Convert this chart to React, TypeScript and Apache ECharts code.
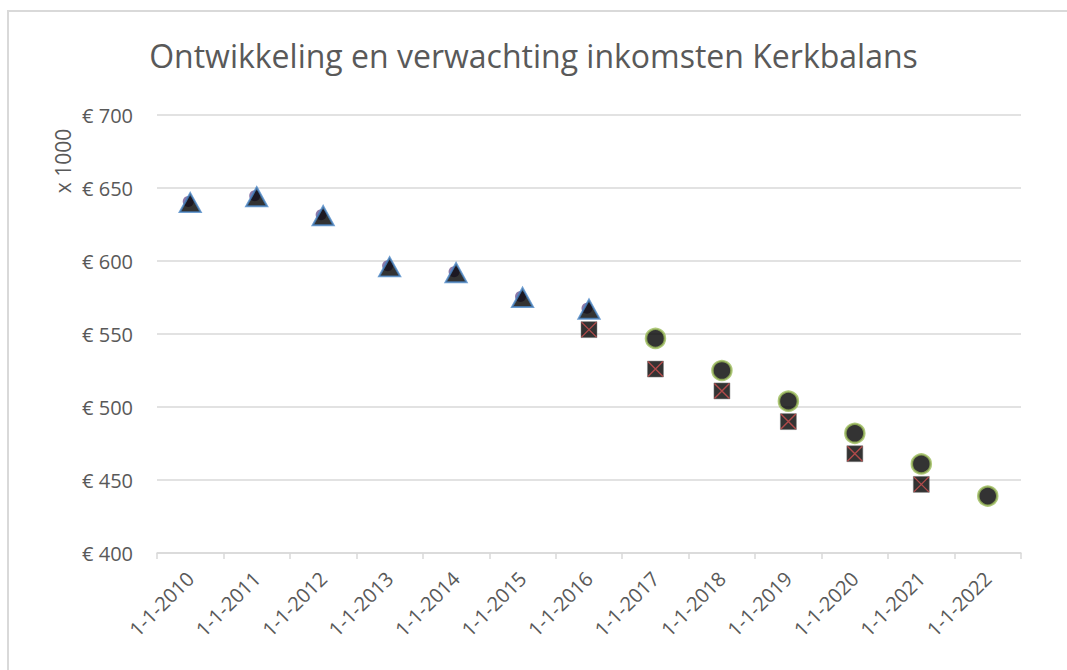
import React, { useEffect, useRef } from "react";
import * as echarts from "echarts";

const categories = [
  "1-1-2010", "1-1-2011", "1-1-2012", "1-1-2013", "1-1-2014", "1-1-2015", "1-1-2016",
  "1-1-2017", "1-1-2018", "1-1-2019", "1-1-2020", "1-1-2021", "1-1-2022",
];
const actual = [640, 644, 631, 596, 592, 575, 567, null, null, null, null, null, null];
const expected = [null, null, null, null, null, null, null, 547, 525, 504, 482, 461, 439];
const alternative = [null, null, null, null, null, null, 553, 526, 511, 490, 468, 447, null];
const yTicks = { min: 400, max: 700, interval: 50 };

const FONT = "'Open Sans', 'Noto Sans', sans-serif";
const GRAY = "#595959";

export default function App() {
  const ref = useRef<HTMLDivElement>(null);
  useEffect(() => {
    if (!ref.current) return;
    const chart = echarts.init(ref.current, null, { renderer: "svg" });
    chart.setOption({
      animation: false,
      backgroundColor: "#ffffff",
      title: {
        text: "Ontwikkeling en verwachting inkomsten Kerkbalans",
        left: "center",
        top: 34,
        textStyle: { fontFamily: FONT, fontSize: 32, fontWeight: "normal", color: GRAY },
      },
      graphic: [
        {
          type: "rect",
          shape: { x: 8, y: 11, width: 1200, height: 800 },
          style: { fill: "none", stroke: "#d9d9d9", lineWidth: 2 },
          silent: true,
        },
        {
          type: "text",
          x: 63,
          y: 161,
          rotation: Math.PI / 2,
          style: {
            text: "x 1000",
            fontFamily: FONT,
            fontSize: 21,
            fill: GRAY,
            align: "center",
            verticalAlign: "middle",
          },
        },
      ],
      grid: { left: 157, right: 46, top: 115, bottom: 117, containLabel: false },
      xAxis: {
        type: "category",
        data: categories,
        boundaryGap: true,
        axisLine: { lineStyle: { color: "#d9d9d9", width: 1.5 } },
        axisTick: { show: true, length: 6, lineStyle: { color: "#d9d9d9", width: 1.5 } },
        axisLabel: {
          rotate: 45,
          interval: 0,
          margin: 22,
          fontFamily: FONT,
          fontSize: 20,
          color: GRAY,
        },
        splitLine: { show: false },
      },
      yAxis: {
        type: "value",
        min: yTicks.min,
        max: yTicks.max,
        interval: yTicks.interval,
        axisLine: { show: false },
        axisTick: { show: false },
        axisLabel: {
          formatter: (v: number) => "€ " + v,
          fontFamily: FONT,
          fontSize: 20,
          color: GRAY,
          margin: 24,
        },
        splitLine: { lineStyle: { color: "#d9d9d9", width: 1.5 } },
      },
      series: [
        {
          type: "scatter",
          name: "actual",
          data: actual,
          symbol: "circle",
          symbolSize: 11,
          symbolOffset: [-2, -1],
          itemStyle: { color: "#7f6a9f", opacity: 0.9 },
          z: 1,
        },
        {
          type: "scatter",
          name: "actual",
          data: actual,
          symbol: "triangle",
          symbolSize: [21, 19],
          itemStyle: { color: "#000000", borderColor: "#4a86c6", borderWidth: 2 },
          z: 2,
        },
        {
          type: "scatter",
          name: "alternative",
          data: alternative,
          symbol: "rect",
          symbolSize: 16,
          itemStyle: { color: "#000000", borderColor: "#7f7f7f", borderWidth: 0.6 },
          z: 3,
        },
        {
          type: "scatter",
          name: "alternativeX",
          data: alternative,
          symbol: "path://M0,0L10,10M10,0L0,10",
          symbolSize: 15,
          itemStyle: { color: "none", borderColor: "#d05050", borderWidth: 1.4 },
          z: 4,
        },
        {
          type: "scatter",
          name: "expected",
          data: expected,
          symbol: "circle",
          symbolSize: 19,
          itemStyle: { color: "#000000", borderColor: "#9bbb59", borderWidth: 2.5 },
          z: 5,
        },
      ],
    });
    return () => chart.dispose();
  }, []);
  return (
    <div
      ref={ref}
      style={{ position: "absolute", left: 0, top: 0, width: 1067, height: 670 }}
    />
  );
}
